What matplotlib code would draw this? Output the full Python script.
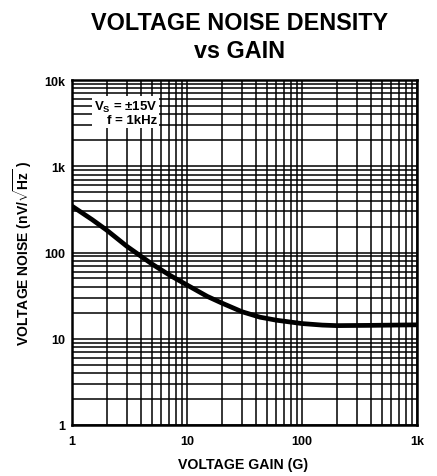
import matplotlib
matplotlib.use("Agg")
import matplotlib.pyplot as plt
from matplotlib.ticker import FixedLocator, LogLocator, NullFormatter

plt.rcParams["font.family"] = ["Liberation Sans", "DejaVu Sans"]
plt.rcParams["font.weight"] = "bold"
plt.rcParams["mathtext.fontset"] = "custom"
plt.rcParams["mathtext.rm"] = "Liberation Sans:bold"
plt.rcParams["mathtext.bf"] = "Liberation Sans:bold"

# curve
gain = [1, 1.5, 2, 3, 4, 5, 7, 10, 15, 20, 30, 43, 60, 100, 150, 200, 400, 1000]
noise = [345, 240, 182, 118, 90, 73, 55, 42, 31, 26, 20.6, 17.8, 16.4, 15, 14.4,
         14.2, 14.3, 14.5]

x_ticks = [1, 10, 100, 1000]
x_labels = ["1", "10", "100", "1k"]
y_ticks = [1, 10, 100, 1000, 10000]
y_labels = ["1", "10", "100", "1k", "10k"]

fig = plt.figure(figsize=(4.37, 4.77), dpi=100)
ax = fig.add_axes([72 / 437, 1 - 426 / 477, 345 / 437, 345 / 477])

ax.plot(gain, noise, color="black", lw=3.4, solid_capstyle="butt",
        solid_joinstyle="round", zorder=5)

ax.set_xscale("log")
ax.set_yscale("log")
ax.set_xlim(1, 1000)
ax.set_ylim(1, 10000)

ax.xaxis.set_major_locator(FixedLocator(x_ticks))
ax.yaxis.set_major_locator(FixedLocator(y_ticks))
ax.xaxis.set_minor_locator(LogLocator(base=10, subs=range(2, 10)))
ax.yaxis.set_minor_locator(LogLocator(base=10, subs=range(2, 10)))
ax.xaxis.set_minor_formatter(NullFormatter())
ax.yaxis.set_minor_formatter(NullFormatter())
ax.set_xticklabels(x_labels)
ax.set_yticklabels(y_labels)
ax.tick_params(which="both", length=0)
ax.tick_params(axis="x", pad=7, labelsize=9)
ax.tick_params(axis="y", pad=5, labelsize=9)

ax.grid(True, which="both", color="black", lw=1.1)
for s in ax.spines.values():
    s.set_linewidth(1.8)

fig.text(243 / 437, 1 - 465 / 477, "VOLTAGE GAIN (G)", ha="center", va="center",
         fontsize=10.2, fontweight="bold")
fig.text(23 / 437, 1 - 253 / 477, r"VOLTAGE NOISE (nV/$\sqrt{\mathrm{Hz}}$ )",
         ha="center", va="center", rotation=90, fontsize=10, fontweight="bold")

ax.text(0.247, 0.945, "V$_\\mathrm{S}$ = \u00b115V\nf = 1kHz", transform=ax.transAxes,
        ha="right", va="top", fontsize=9.5, fontweight="bold", linespacing=1.0,
        bbox=dict(facecolor="white", edgecolor="none", pad=1.0), zorder=6)

fig.text(0.548, 1 - 23 / 477, "VOLTAGE NOISE DENSITY", ha="center", va="center",
         fontsize=16.8, fontweight="bold")
fig.text(0.548, 1 - 52 / 477, "vs GAIN", ha="center", va="center",
         fontsize=16.8, fontweight="bold")

fig.savefig("out.png", dpi=100)
